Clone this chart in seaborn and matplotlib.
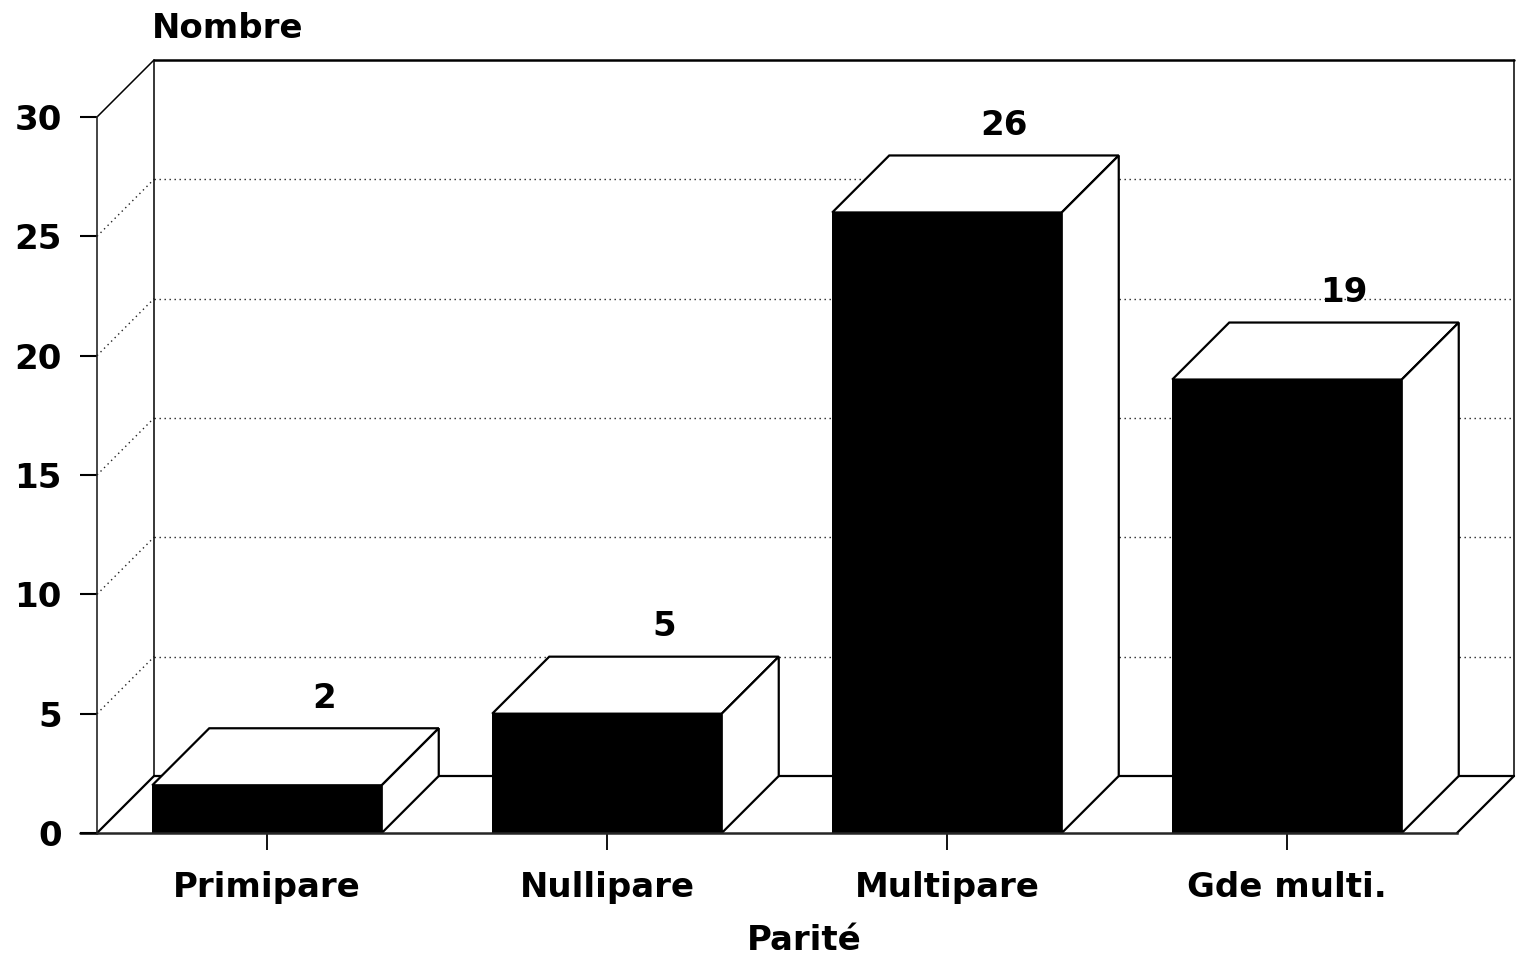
import matplotlib
matplotlib.use("Agg")
import matplotlib.pyplot as plt
import pandas as pd
import seaborn as sns

categories = ["Primipare", "Nullipare", "Multipare", "Gde multi."]
values = [2, 5, 26, 19]
y_ticks = [0, 5, 10, 15, 20, 25, 30]
y_title = "Nombre"
x_title = "Parité"

sns.set_style("white")
plt.rcParams["font.family"] = ["DejaVu Sans"]
plt.rcParams["text.color"] = "black"
plt.rcParams["axes.labelcolor"] = "black"
FS = 24.5
W, H = 1522, 960
DEPTH_PX = 57
TICK_PX = 17
BAR_W = 0.675
LW = 1.6

fig = plt.figure(figsize=(W / 100, H / 100), dpi=100, facecolor="white")
ax = fig.add_axes([97 / W, (H - 833) / H, (1457 - 97) / W, (833 - 117) / H])

df = pd.DataFrame({"cat": categories, "val": values})
sns.barplot(data=df, x="cat", y="val", color="black", saturation=1, width=BAR_W,
            ax=ax, zorder=5, linewidth=0)
ax.set_xlim(-0.5, 3.5)
ax.set_ylim(0, 30)
ax.set_facecolor("none")

px_per_cat = (1457 - 97) / 4
dx = DEPTH_PX / px_per_cat
dy = DEPTH_PX / ((833 - 117) / 30)
xl, xr = ax.get_xlim()
ymax = max(y_ticks)
line_kw = dict(color="black", clip_on=False, solid_capstyle="round")
dot_kw = dict(color="#222222", lw=1.0, linestyle=(0, (1, 2.6)), clip_on=False)

# back wall and floor
ax.plot([xl + dx, xr + dx], [ymax + dy, ymax + dy], lw=1.8, zorder=2, **line_kw)
ax.plot([xl, xl + dx], [ymax, ymax + dy], lw=1.1, zorder=2, **line_kw)
ax.plot([xl + dx, xl + dx], [dy, ymax + dy], lw=1.1, zorder=2, **line_kw)
ax.plot([xr + dx, xr + dx], [dy, ymax + dy], lw=1.1, zorder=2, **line_kw)
ax.plot([xl + dx, xr + dx], [dy, dy], lw=LW, zorder=2, **line_kw)
ax.plot([xl, xl + dx], [0, dy], lw=LW, zorder=2, **line_kw)
ax.plot([xr, xr + dx], [0, dy], lw=LW, zorder=2, **line_kw)
# baseline carried out over the zero tick
ax.plot([xl - TICK_PX / px_per_cat, xl], [0, 0], lw=1.8, zorder=7, **line_kw)

# grid on the walls
for t in y_ticks[1:-1]:
    ax.plot([xl + dx, xr + dx], [t + dy, t + dy], zorder=1, **dot_kw)
    ax.plot([xl, xl + dx], [t, t + dy], zorder=1, **dot_kw)

# 3D faces of the bars
for i, v in enumerate(values):
    a, b = i - BAR_W / 2, i + BAR_W / 2
    ax.fill([a, b, b + dx, a + dx], [v, v, v + dy, v + dy], facecolor="white",
            edgecolor="black", lw=LW, zorder=4, clip_on=False)
    ax.fill([b, b + dx, b + dx, b], [0, dy, v + dy, v], facecolor="white",
            edgecolor="black", lw=LW, zorder=4, clip_on=False)
    ax.annotate(str(v), xy=(i + dx, v + dy), xytext=(0, 21.5), textcoords="offset points",
                ha="center", va="center", fontsize=FS, fontweight="bold", zorder=6,
                color="black")

# axes furniture
for s in ("top", "right"):
    ax.spines[s].set_visible(False)
ax.spines["left"].set_linewidth(1.2)
ax.spines["bottom"].set_linewidth(1.8)
ax.spines["left"].set_zorder(3)
ax.spines["bottom"].set_zorder(7)
ax.set_xlim(xl, xr)
ax.set_yticks(y_ticks)
ax.set_yticklabels([str(t) for t in y_ticks], fontsize=FS, fontweight="bold")
ax.tick_params(axis="y", which="major", length=12.2, width=1.5, color="black",
               labelcolor="black", pad=13, left=True)
ax.tick_params(axis="x", which="major", length=12.2, width=1.3, color="black",
               labelcolor="black", pad=15, bottom=True, labelsize=FS)
for lab in ax.get_xticklabels():
    lab.set_fontweight("bold")
ax.set_ylabel("")
ax.set_xlabel(x_title, fontsize=FS, fontweight="bold", labelpad=0, color="black")
ax.xaxis.set_label_coords((804 - 97) / (1457 - 97), (833 - 941) / (833 - 117), ax.transAxes)
ax.xaxis.label.set_va("center")
ax.text(152 / W, 1 - 28 / H, y_title, transform=fig.transFigure, ha="left", va="center",
        fontsize=FS, fontweight="bold", color="black")

fig.savefig("out.png", dpi=100, facecolor="white")
